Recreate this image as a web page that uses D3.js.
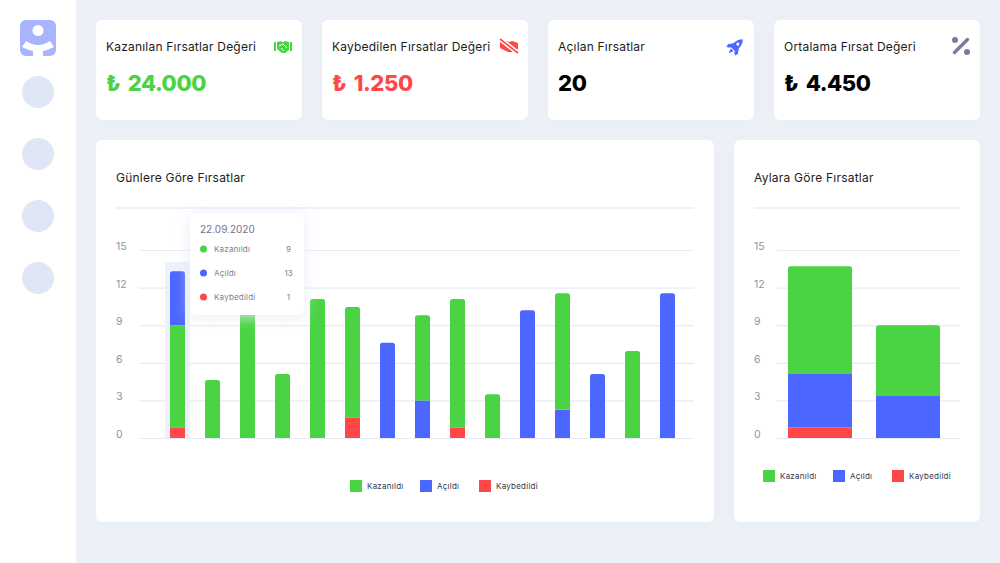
<!DOCTYPE html>
<html>
<head>
<meta charset="utf-8">
<script src="https://cdn.jsdelivr.net/npm/d3@7"></script>
<style>
  html, body { margin: 0; padding: 0; background: #edf1f7; }
  svg { display: block; font-family: Inter, "Noto Sans", sans-serif; }
  .domain { display: none; }
</style>
</head>
<body>
<svg id="chart" width="1000" height="563"></svg>
<script>
// Daily chart
const dayIndex = d3.range(15)
const dailyWon = [8.15, 4.63, 10, 5.1, 11.1, 8.8, 0, 6.8, 10.25, 3.5, 0, 9.3, 0, 6.95, 0]
const dailyOpened = [4.3, 0, 0, 0, 0, 0, 7.6, 3, 0, 0, 10.2, 2.25, 5.1, 0, 11.55]
const dailyLost = [0.85, 0, 0, 0, 0, 1.65, 0, 0, 0.85, 0, 0, 0, 0, 0, 0]

// Monthly chart
const monthIndex = [0, 1]
const monthlyWon = [8.6, 5.65]
const monthlyOpened = [4.25, 3.35]
const monthlyLost = [0.85, 0]

const yTicks = [0, 3, 6, 9, 12, 15]
const seriesNames = ['Kazanıldı', 'Açıldı', 'Kaybedildi']
const seriesColors = ['#4ad343', '#4c67ff', '#ff4747']

// Summary cards
const cardTitles = ['Kazanılan Fırsatlar Değeri', 'Kaybedilen Fırsatlar Değeri', 'Açılan Fırsatlar', 'Ortalama Fırsat Değeri']
const cardValues = ['₺ 24.000', '₺ 1.250', '20', '₺ 4.450']
const cardColors = ['#4ad343', '#ff4747', '#000000', '#000000']

// Tooltip of the hovered day
const tooltipDate = '22.09.2020'
const tooltipValues = [9, 13, 1]

const navItems = [0, 1, 2, 3]
const textDark = '#1b1b22'
const textMuted = '#8b93ad'
const gridColor = '#e6ebf6'

const svg = d3.select('#chart')

const defs = svg.append('defs')
const addShadow = (id, color, blur, opacity) => {
  defs.append('filter')
    .attr('id', id)
    .attr('x', '-20%').attr('y', '-20%').attr('width', '140%').attr('height', '140%')
    .append('feDropShadow')
    .attr('dx', 0).attr('dy', 2)
    .attr('stdDeviation', blur)
    .attr('flood-color', color)
    .attr('flood-opacity', opacity)
}
addShadow('cardShadow', '#dfe4ef', 5, 0.4)
addShadow('tipShadow', '#e4e9f7', 7, 0.9)

// Sidebar
svg.append('rect').attr('width', 76).attr('height', 563).attr('fill', '#fff')
svg.append('rect').attr('x', 20).attr('y', 20).attr('width', 36).attr('height', 36).attr('rx', 6).attr('fill', '#a9b4ff')
svg.append('circle').attr('cx', 38).attr('cy', 30.5).attr('r', 5.5).attr('fill', '#fff')
svg.append('path')
  .attr('d', 'M26 41 Q38 49 50 41 L54 47 Q48 50 43 51 L43 56 L33 56 L33 51 Q28 50 22 47 Z')
  .attr('fill', '#fff')
svg.selectAll('circle.nav')
  .data(navItems)
  .enter()
  .append('circle')
  .attr('class', 'nav')
  .attr('cx', 38)
  .attr('cy', (d) => 92 + d * 62)
  .attr('r', 16)
  .attr('fill', '#dfe6f5')

// Cards
const cardX = d3.scaleLinear().domain([0, 1]).range([96, 322])
const cards = svg.selectAll('g.card')
  .data(cardTitles)
  .enter()
  .append('g')
  .attr('class', 'card')
  .attr('transform', (d, i) => `translate(${cardX(i)},20)`)

cards.append('rect')
  .attr('width', 206)
  .attr('height', 100)
  .attr('rx', 6)
  .attr('fill', '#fff')
  .attr('filter', 'url(#cardShadow)')

cards.append('text')
  .attr('x', 10)
  .attr('y', 31)
  .attr('font-size', 12)
  .attr('letter-spacing', 0.2)
  .attr('fill', textDark)
  .text((d) => d)

cards.append('text')
  .attr('x', 10)
  .attr('y', 71)
  .attr('font-size', 22)
  .attr('font-weight', 800)
  .attr('letter-spacing', -0.4)
  .attr('word-spacing', 3)
  .attr('fill', (d, i) => cardColors[i])
  .text((d, i) => cardValues[i])

// Card icons
const handshake = 'M-6 -5 L-2 -6 L0 -4.5 L2 -6 L6 -5 L6 3 L2 6 L-1 6 L-6 2 Z'
const icons = svg.append('g')
const wonIcon = icons.append('g').attr('transform', 'translate(283,47)')
wonIcon.append('path').attr('d', handshake).attr('fill', '#4ad343')
wonIcon.append('path').attr('d', 'M-4 -1 L0 -3 L4 1 M-2 1 L1 4').attr('stroke', '#fff').attr('stroke-width', 1).attr('fill', 'none')
wonIcon.selectAll('rect').data([-9, 7]).enter().append('rect')
  .attr('x', (d) => d).attr('y', -5).attr('width', 2).attr('height', 9).attr('fill', '#4ad343')

const lostIcon = icons.append('g').attr('transform', 'translate(509,46)')
lostIcon.append('path').attr('d', 'M-9 -4 L-3 -5 L0 -4 L3 -5 L9 -3 L9 3 L3 6 L-1 6 L-9 2 Z').attr('fill', '#ff4747')
lostIcon.append('path').attr('d', 'M-9 -7 L9 7').attr('stroke', '#fff').attr('stroke-width', 4.5)
lostIcon.append('path').attr('d', 'M-9 -7 L9 7').attr('stroke', '#ff4747').attr('stroke-width', 1.6)

const rocket = icons.append('g').attr('transform', 'translate(735,47) rotate(45)')
rocket.append('path').attr('d', 'M0 -11 C4 -7 4 -2 3.5 3 L-3.5 3 C-4 -2 -4 -7 0 -11 Z').attr('fill', '#4c67ff')
rocket.append('path').attr('d', 'M-3.5 -2 L-7 3 L-6 6 L-3 4 Z M3.5 -2 L7 3 L6 6 L3 4 Z M-2 4 L2 4 L0 9 Z').attr('fill', '#4c67ff')
rocket.append('circle').attr('cy', -4).attr('r', 1.5).attr('fill', '#fff')

const percent = icons.append('g').attr('transform', 'translate(961,46)')
percent.append('path').attr('d', 'M-6.5 6.5 L6.5 -6.5').attr('stroke', '#767d96').attr('stroke-width', 3.4).attr('stroke-linecap', 'round')
percent.selectAll('circle').data([-1, 1]).enter().append('circle')
  .attr('cx', (d) => d * 6).attr('cy', (d) => d * 6).attr('r', 3).attr('fill', '#767d96')

// Bars are drawn with a rounded top on the last segment only
const barPath = (x, y0, y1, w, r) => {
  if (!r) return `M${x} ${y0}V${y1}H${x + w}V${y0}Z`
  return `M${x} ${y0}V${y1 + r}Q${x} ${y1} ${x + r} ${y1}H${x + w - r}Q${x + w} ${y1} ${x + w} ${y1 + r}V${y0}Z`
}

const drawPanel = (opts) => {
  const panel = svg.append('g')
  panel.append('rect')
    .attr('x', opts.x).attr('y', 140)
    .attr('width', opts.width).attr('height', 382)
    .attr('rx', 6)
    .attr('fill', '#fff')
    .attr('filter', 'url(#cardShadow)')

  panel.append('text')
    .attr('x', opts.x + 20).attr('y', 182)
    .attr('font-size', 12)
    .attr('letter-spacing', 0.22)
    .attr('fill', textDark)
    .text(opts.title)

  panel.append('line')
    .attr('x1', opts.x + 20).attr('x2', opts.x + opts.width - 20)
    .attr('y1', 208).attr('y2', 208)
    .attr('stroke', gridColor).attr('stroke-width', 1.5)

  const y = d3.scaleLinear().domain([0, 15]).range([438, 250])
  const x = d3.scaleBand().domain(opts.index).range(opts.xRange).paddingInner(opts.padding).paddingOuter(opts.outer)

  const axis = panel.append('g')
    .attr('transform', `translate(${opts.gridLeft},0)`)
    .call(d3.axisLeft(y).tickValues(yTicks).tickSize(-(opts.x + opts.width - 20 - opts.gridLeft)).tickFormat(d3.format('d')))

  axis.selectAll('.tick line').attr('stroke', gridColor).attr('stroke-width', 1.2)
  axis.selectAll('.tick text')
    .attr('x', opts.x + 20 - opts.gridLeft)
    .attr('dy', '-1px')
    .attr('y', 0.4)
    .attr('text-anchor', 'start')
    .attr('font-size', 10.5)
    .attr('font-family', 'Inter, sans-serif')
    .attr('fill', textMuted)

  if (opts.hover !== undefined) {
    const pad = 5
    panel.append('rect')
      .attr('x', x(opts.hover) - pad)
      .attr('y', 262)
      .attr('width', x.bandwidth() + pad * 2)
      .attr('height', 176)
      .attr('fill', '#edf1fa')
  }

  const segments = opts.index.flatMap((d, i) => {
    const order = i === opts.hover ? opts.hoverOrder : opts.order
    const visible = order.filter((s) => opts.values[s][i] > 0)
    let total = 0
    return visible.map((s, k) => {
      const start = total
      total += opts.values[s][i]
      return { bar: d, series: s, start, end: total, top: k === visible.length - 1 }
    })
  })

  panel.selectAll('path.bar')
    .data(segments)
    .enter()
    .append('path')
    .attr('class', 'bar')
    .attr('d', (d) => barPath(x(d.bar), y(d.start), y(d.end), x.bandwidth(), d.top ? 2.5 : 0))
    .attr('fill', (d) => seriesColors[d.series])

  // Legend
  const legend = panel.selectAll('g.legend')
    .data(seriesNames)
    .enter()
    .append('g')
    .attr('class', 'legend')
    .attr('transform', (d, i) => `translate(${opts.legendX[i]},${opts.legendY})`)
  legend.append('rect')
    .attr('width', 12).attr('height', 12)
    .attr('fill', (d, i) => seriesColors[i])
  legend.append('text')
    .attr('x', 17).attr('y', 9)
    .attr('font-size', 8)
    .attr('letter-spacing', 0.25)
    .attr('fill', '#34384a')
    .text((d) => d)
}

// series order: 0 won, 1 opened, 2 lost
drawPanel({
  x: 96,
  width: 618,
  title: 'Günlere Göre Fırsatlar',
  index: dayIndex,
  values: [dailyWon, dailyOpened, dailyLost],
  order: [2, 1, 0],
  hover: 0,
  hoverOrder: [2, 0, 1],
  xRange: [160, 685],
  padding: 20 / 35,
  outer: 10 / 35,
  gridLeft: 139,
  legendX: [350, 420, 479],
  legendY: 480
})

drawPanel({
  x: 734,
  width: 246,
  title: 'Aylara Göre Fırsatlar',
  index: monthIndex,
  values: [monthlyWon, monthlyOpened, monthlyLost],
  order: [2, 1, 0],
  xRange: [788, 940],
  padding: 24 / 88,
  outer: 0,
  gridLeft: 777,
  legendX: [763, 833, 892],
  legendY: 470
})

// Tooltip
const tip = svg.append('g').attr('transform', 'translate(190,213)')
tip.append('rect')
  .attr('width', 114).attr('height', 102)
  .attr('rx', 6)
  .attr('fill', '#fff')
  .attr('filter', 'url(#tipShadow)')
tip.append('text')
  .attr('x', 10).attr('y', 20)
  .attr('font-size', 10)
  .attr('fill', '#6f7690')
  .text(tooltipDate)

const tipRows = tip.selectAll('g.row')
  .data(seriesNames)
  .enter()
  .append('g')
  .attr('class', 'row')
  .attr('transform', (d, i) => `translate(0,${36 + i * 24})`)
tipRows.append('circle')
  .attr('cx', 13.5)
  .attr('r', 3.5)
  .attr('fill', (d, i) => seriesColors[i])
tipRows.append('text')
  .attr('x', 24).attr('y', 3)
  .attr('font-size', 8)
  .attr('letter-spacing', 0.2)
  .attr('fill', '#7a8199')
  .text((d) => d)
tipRows.append('text')
  .attr('x', 98.5).attr('y', 3)
  .attr('text-anchor', 'middle')
  .attr('font-size', 8)
  .attr('fill', '#7a8199')
  .text((d, i) => tooltipValues[i])
</script>
</body>
</html>
